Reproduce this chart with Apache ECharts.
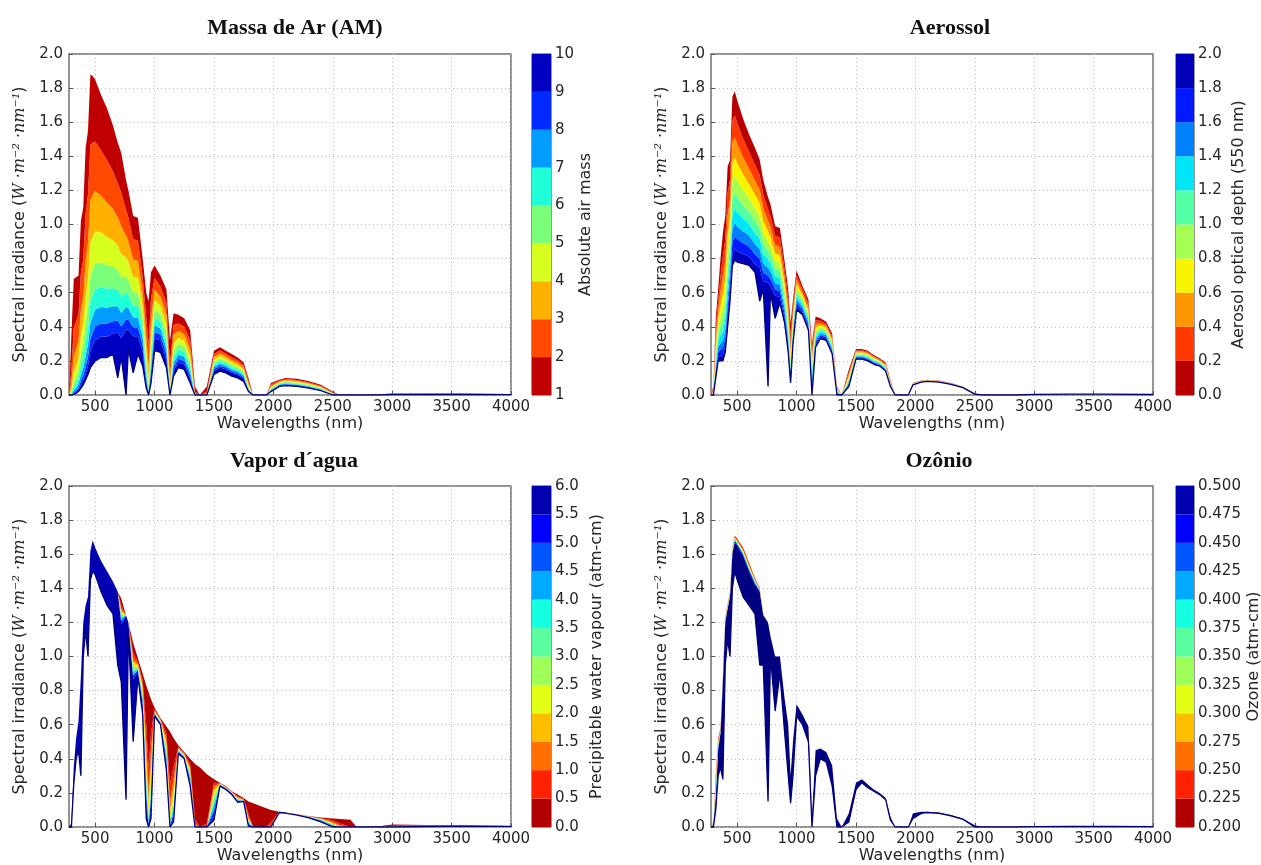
<!DOCTYPE html>
<html>
<head>
<meta charset="utf-8">
<title>Spectral irradiance</title>
<script src="https://cdn.jsdelivr.net/npm/echarts@6/dist/echarts.min.js"></script>
<style>
  html, body { margin: 0; padding: 0; background: #fff; }
  #main { width: 1261px; height: 865px; }
</style>
</head>
<body>
<div id="main"></div>
<script>
// wavelength grid shared by every curve (nm)
const wavelengths = [280, 300, 320, 340, 360, 380, 400, 420, 440, 460,
  480, 500, 550, 600, 650, 690, 720, 760, 780, 820,
  860, 900, 930, 950, 970, 1000, 1050, 1100, 1130, 1160,
  1200, 1250, 1300, 1340, 1380, 1440, 1500, 1550, 1600, 1650,
  1700, 1750, 1790, 1830, 1940, 1980, 2050, 2100, 2200, 2300,
  2400, 2500, 2560, 2650, 2700, 2850, 3000, 3300, 3600, 4000]
const xTicks = [500, 1000, 1500, 2000, 2500, 3000, 3500, 4000]

// --- Massa de Ar: one spectrum per air mass ---
const airMassLevels = [1, 2, 3, 4, 5, 6, 7, 8, 9, 10]
const airMassBar = [1, 2, 3, 4, 5, 6, 7, 8, 9, 10]
const am1 = [0, .35, .68, .69, .70, 1.02, 1.10, 1.45, 1.55, 1.88,
  1.87, 1.85, 1.76, 1.68, 1.58, 1.48, 1.42, 1.26, 1.20, 1.05,
  1.04, .80, .60, .55, .72, .76, .70, .62, .32, .48,
  .47, .45, .38, .05, 0, .05, .26, .28, .26, .24,
  .22, .19, .10, 0, 0, .07, .09, .10, .095, .08,
  .06, .02, 0, 0, 0, 0, .01, .01, .01, .008]
const am2 = [0, .15, .394, .431, .472, .712, .796, 1.064, 1.177, 1.466,
  1.481, 1.487, 1.435, 1.377, 1.313, 1.243, 1.186, 1.086, 1.04, .914,
  .906, .693, .455, .30, .564, .686, .635, .541, .18, .411,
  .42, .401, .32, .02, 0, .02, .241, .261, .243, .222,
  .204, .175, .084, 0, 0, .061, .084, .094, .088, .074,
  .054, .016, 0, 0, 0, 0, .008, .009, .009, .007]
const am3 = [0, .07, .228, .27, .318, .497, .577, .781, .893, 1.144,
  1.173, 1.196, 1.169, 1.129, 1.091, 1.044, .99, .936, .902, .795,
  .789, .601, .346, .17, .442, .618, .576, .471, .10, .353,
  .375, .357, .269, .01, 0, .01, .223, .244, .227, .206,
  .189, .161, .07, 0, 0, .053, .079, .088, .082, .069,
  .049, .012, 0, 0, 0, 0, .007, .008, .008, .006]
const am4 = [0, .03, .132, .169, .214, .347, .418, .573, .678, .892,
  .929, .961, .953, .926, .907, .877, .827, .807, .782, .692,
  .688, .521, .262, .09, .346, .558, .522, .411, .055, .302,
  .335, .318, .226, .005, 0, .005, .206, .228, .212, .191,
  .175, .148, .058, 0, 0, .046, .074, .082, .077, .064,
  .045, .009, 0, 0, 0, 0, .006, .007, .007, .005]
const am5 = [0, .015, .076, .105, .144, .242, .302, .421, .515, .696,
  .736, .773, .777, .759, .754, .737, .69, .695, .678, .602,
  .599, .452, .199, .05, .271, .503, .474, .358, .03, .259,
  .299, .284, .19, 0, 0, 0, .191, .212, .198, .176,
  .162, .136, .049, 0, 0, .04, .069, .077, .071, .059,
  .041, .007, 0, 0, 0, 0, .005, .006, .006, .004]
const am6 = [0, .007, .044, .066, .097, .169, .219, .309, .391, .543,
  .583, .622, .633, .623, .626, .619, .576, .599, .588, .524,
  .522, .392, .151, .03, .212, .454, .43, .312, .017, .222,
  .267, .253, .16, 0, 0, 0, .177, .198, .185, .163,
  .15, .125, .041, 0, 0, .035, .065, .072, .066, .054,
  .037, .005, 0, 0, 0, 0, .004, .005, .005, .004]
const am7 = [0, 0, .026, .041, .066, .118, .158, .227, .297, .423,
  .462, .50, .516, .511, .52, .52, .481, .517, .51, .456,
  .455, .34, .115, .015, .166, .409, .39, .272, .009, .19,
  .238, .225, .135, 0, 0, 0, .164, .185, .172, .151,
  .139, .115, .034, 0, 0, .03, .061, .067, .062, .05,
  .033, .003, 0, 0, 0, 0, .003, .005, .005, .003]
const am8 = [0, 0, .015, .026, .044, .082, .115, .166, .225, .33,
  .366, .402, .42, .419, .432, .437, .402, .445, .442, .397,
  .396, .294, .087, .008, .13, .369, .353, .237, .005, .163,
  .213, .201, .113, 0, 0, 0, .152, .172, .161, .14,
  .128, .106, .029, 0, 0, .026, .057, .063, .058, .047,
  .03, .002, 0, 0, 0, 0, .003, .004, .004, .003]
const am9 = [0, 0, .009, .016, .03, .057, .083, .122, .171, .258,
  .29, .323, .343, .343, .359, .367, .335, .384, .383, .345,
  .345, .255, .066, .004, .102, .333, .32, .207, .002, .14,
  .19, .179, .095, 0, 0, 0, .14, .161, .15, .13,
  .119, .098, .024, 0, 0, .023, .053, .059, .054, .043,
  .028, .001, 0, 0, 0, 0, .002, .003, .003, .002]
const am10 = [0, 0, .005, .01, .02, .04, .06, .09, .12, .16,
  .18, .20, .22, .22, .24, .10, .22, 0, .27, .13,
  .24, .17, .04, 0, .07, .26, .25, .16, 0, .11,
  .16, .15, .07, 0, 0, 0, .12, .14, .13, .11,
  .10, .08, .02, 0, 0, .02, .05, .055, .05, .04,
  .025, 0, 0, 0, 0, 0, .002, .003, .003, .002]

// --- Aerossol: one spectrum per optical depth ---
const aerosolLevels = [0, 0.2, 0.4, 0.6, 0.8, 1.0, 1.2, 1.4, 1.6, 1.8, 2.0]
const aerosolBar = [0, 0.2, 0.4, 0.6, 0.8, 1.0, 1.2, 1.4, 1.6, 1.8, 2.0]
const aod00 = [0, .05, .45, .62, .80, .95, 1.05, 1.34, 1.38, 1.75,
  1.78, 1.73, 1.62, 1.53, 1.45, 1.38, 1.26, 1.16, 1.12, .99,
  .98, .78, .62, .42, .56, .73, .64, .56, .30, .46,
  .45, .43, .36, .05, 0, .15, .27, .27, .26, .235,
  .215, .19, .09, 0, 0, .07, .085, .09, .085, .07,
  .05, .01, 0, 0, 0, 0, .005, .006, .006, .004]
const aod02 = [0, .04, .387, .554, .697, .813, .909, 1.187, 1.259, 1.61,
  1.641, 1.597, 1.503, 1.426, 1.351, 1.289, 1.174, 1.089, 1.052, .934,
  .923, .733, .566, .351, .526, .703, .621, .539, .27, .438,
  .436, .417, .346, .045, 0, .134, .263, .263, .253, .229,
  .21, .184, .085, 0, 0, .069, .084, .089, .084, .069,
  .049, .0095, 0, 0, 0, 0, .005, .006, .006, .004]
const aod04 = [0, .03, .333, .494, .607, .696, .787, 1.052, 1.148, 1.482,
  1.513, 1.475, 1.395, 1.329, 1.26, 1.204, 1.095, 1.023, .989, .88,
  .87, .689, .517, .293, .494, .677, .602, .518, .24, .417,
  .423, .405, .332, .04, 0, .12, .257, .257, .247, .223,
  .205, .179, .08, 0, 0, .068, .083, .088, .083, .068,
  .049, .009, 0, 0, 0, 0, .005, .006, .006, .004]
const aod06 = [0, .02, .286, .441, .529, .596, .682, .932, 1.047, 1.363,
  1.395, 1.362, 1.295, 1.239, 1.174, 1.125, 1.02, .96, .929, .83,
  .819, .648, .472, .245, .464, .652, .583, .498, .21, .396,
  .41, .394, .319, .035, 0, .108, .25, .25, .24, .217,
  .2, .173, .076, 0, 0, .067, .082, .087, .082, .068,
  .048, .0085, 0, 0, 0, 0, .005, .006, .006, .004]
const aod08 = [0, .015, .246, .394, .46, .51, .59, .826, .955, 1.254,
  1.287, 1.258, 1.201, 1.155, 1.094, 1.05, .951, .902, .873, .783,
  .772, .609, .431, .205, .436, .628, .566, .48, .18, .377,
  .397, .383, .306, .03, 0, .097, .244, .244, .234, .211,
  .196, .168, .072, 0, 0, .066, .081, .086, .081, .067,
  .047, .008, 0, 0, 0, 0, .005, .005, .005, .004]
const aod10 = [0, .01, .212, .352, .401, .437, .511, .732, .871, 1.154,
  1.186, 1.162, 1.115, 1.076, 1.02, .981, .886, .847, .82, .738,
  .727, .572, .394, .171, .41, .604, .549, .461, .15, .359,
  .385, .371, .294, .025, 0, .087, .238, .238, .228, .206,
  .191, .163, .067, 0, 0, .065, .08, .085, .08, .066,
  .047, .0075, 0, 0, 0, 0, .0045, .005, .005, .0035]
const aod12 = [0, .005, .182, .314, .349, .374, .443, .648, .794, 1.062,
  1.094, 1.073, 1.035, 1.003, .95, .916, .826, .795, .77, .696,
  .685, .538, .359, .143, .385, .582, .532, .444, .12, .341,
  .374, .361, .282, .02, 0, .078, .232, .232, .222, .2,
  .187, .158, .063, 0, 0, .064, .079, .084, .079, .065,
  .046, .007, 0, 0, 0, 0, .0045, .005, .005, .0035]
const aod14 = [0, 0, .157, .281, .304, .32, .383, .574, .724, .977,
  1.009, .99, .96, .935, .886, .856, .77, .747, .724, .656,
  .645, .506, .328, .12, .362, .56, .516, .427, .09, .325,
  .362, .35, .271, .015, 0, .07, .226, .226, .216, .195,
  .182, .153, .06, 0, 0, .063, .078, .083, .078, .064,
  .045, .0065, 0, 0, 0, 0, .0045, .005, .005, .0035]
const aod16 = [0, 0, .135, .25, .265, .274, .332, .509, .661, .899,
  .93, .915, .891, .871, .826, .799, .717, .701, .68, .619,
  .608, .475, .30, .10, .34, .54, .50, .411, .06, .309,
  .351, .34, .26, .01, 0, .062, .221, .221, .211, .19,
  .178, .149, .056, 0, 0, .062, .077, .082, .077, .064,
  .045, .006, 0, 0, 0, 0, .004, .005, .005, .003]
const aod18 = [0, 0, .116, .224, .23, .234, .288, .451, .603, .827,
  .857, .845, .827, .812, .769, .747, .669, .658, .639, .583,
  .573, .447, .274, .084, .319, .519, .485, .395, .03, .294,
  .341, .33, .25, .005, 0, .056, .215, .215, .205, .185,
  .174, .144, .053, 0, 0, .061, .076, .081, .076, .063,
  .044, .0055, 0, 0, 0, 0, .004, .005, .005, .003]
const aod20 = [0, 0, .10, .20, .20, .20, .25, .40, .55, .76,
  .79, .78, .77, .76, .72, .55, .62, .05, .60, .45,
  .54, .42, .25, .07, .30, .50, .47, .38, 0, .28,
  .33, .32, .24, 0, 0, .05, .21, .21, .20, .18,
  .17, .14, .05, 0, 0, .06, .075, .08, .075, .062,
  .043, .005, 0, 0, 0, 0, .004, .005, .005, .003]

// --- Vapor d'agua: one spectrum per precipitable water ---
const waterLevels = [0, 0.5, 1, 1.5, 2.5, 3.5, 4.5, 5.5, 6]
const waterBar = [0, 0.5, 1, 1.5, 2, 2.5, 3, 3.5, 4, 4.5, 5, 5.5, 6]
const pw00 = [0, .02, .35, .52, .62, .88, 1.2, 1.3, 1.35, 1.62,
  1.68, 1.64, 1.56, 1.5, 1.44, 1.38, 1.34, 1.24, 1.2, 1.08,
  .99, .9, .83, .79, .75, .7, .64, .59, .56, .52,
  .48, .44, .4, .37, .35, .31, .28, .26, .24, .21,
  .19, .17, .15, .14, .11, .1, .09, .085, .075, .065,
  .055, .05, .047, .043, 0, 0, .015, .012, .01, .008]
const pw05 = [0, .02, .35, .52, .62, .88, 1.2, 1.3, 1.35, 1.62,
  1.68, 1.64, 1.56, 1.5, 1.44, 1.38, 1.30, 1.24, 1.2, 1.02,
  .97, .86, .6, .35, .55, .69, .635, .55, .25, .35,
  .47, .435, .37, .05, 0, .02, .26, .258, .238, .208,
  .18, .165, .08, 0, 0, .03, .09, .085, .075, .064,
  .052, .04, .02, 0, 0, 0, .008, .009, .009, .007]
const pw10 = [0, .02, .35, .52, .62, .88, 1.2, 1.3, 1.35, 1.62,
  1.68, 1.64, 1.56, 1.5, 1.44, 1.38, 1.28, 1.24, 1.2, .99,
  .96, .84, .5, .22, .45, .685, .63, .52, .15, .28,
  .465, .43, .35, .02, 0, 0, .24, .256, .236, .206,
  .175, .162, .06, 0, 0, .01, .089, .085, .074, .063,
  .05, .03, .01, 0, 0, 0, .006, .008, .008, .007]
const pw15 = [0, .02, .35, .52, .62, .88, 1.2, 1.3, 1.35, 1.62,
  1.68, 1.64, 1.56, 1.5, 1.44, 1.38, 1.27, 1.24, 1.2, .97,
  .95, .82, .42, .15, .38, .68, .625, .50, .10, .23,
  .46, .425, .34, .01, 0, 0, .22, .254, .234, .204,
  .17, .16, .05, 0, 0, 0, .089, .084, .074, .062,
  .048, .025, .005, 0, 0, 0, .005, .007, .008, .006]
const pw25 = [0, .02, .35, .52, .62, .88, 1.2, 1.3, 1.35, 1.62,
  1.68, 1.64, 1.56, 1.5, 1.44, 1.38, 1.25, 1.24, 1.2, .94,
  .94, .79, .32, .08, .28, .675, .62, .46, .05, .16,
  .455, .42, .32, 0, 0, 0, .18, .252, .232, .202,
  .165, .158, .04, 0, 0, 0, .088, .084, .073, .061,
  .045, .018, 0, 0, 0, 0, .004, .006, .007, .006]
const pw35 = [0, .02, .35, .52, .62, .88, 1.2, 1.3, 1.35, 1.62,
  1.68, 1.64, 1.56, 1.5, 1.44, 1.38, 1.23, 1.24, 1.2, .91,
  .93, .76, .25, .04, .21, .67, .615, .43, .02, .12,
  .45, .415, .30, 0, 0, 0, .14, .25, .23, .20,
  .16, .156, .03, 0, 0, 0, .088, .084, .073, .06,
  .042, .012, 0, 0, 0, 0, .003, .005, .006, .005]
const pw45 = [0, .02, .35, .52, .62, .88, 1.2, 1.3, 1.35, 1.62,
  1.68, 1.64, 1.56, 1.5, 1.44, 1.38, 1.21, 1.24, 1.2, .89,
  .92, .74, .18, .02, .15, .665, .61, .40, .01, .08,
  .445, .41, .28, 0, 0, 0, .10, .248, .228, .198,
  .155, .154, .02, 0, 0, 0, .087, .083, .072, .058,
  .038, .008, 0, 0, 0, 0, .002, .004, .006, .005]
const pw55 = [0, .02, .35, .52, .62, .88, 1.2, 1.3, 1.35, 1.62,
  1.68, 1.64, 1.56, 1.5, 1.44, 1.38, 1.19, 1.24, 1.2, .87,
  .91, .72, .12, .01, .10, .66, .605, .37, 0, .05,
  .44, .405, .26, 0, 0, 0, .06, .246, .226, .196,
  .15, .152, .01, 0, 0, 0, .087, .083, .072, .056,
  .034, .004, 0, 0, 0, 0, .001, .004, .005, .005]
const pw60 = [0, 0, .25, .4, .45, .3, 1.0, 1.15, 1.0, 1.45,
  1.5, 1.48, 1.38, 1.3, 1.25, .95, .85, .16, 1.15, .5,
  .88, .66, .05, 0, .05, .65, .60, .33, 0, .03,
  .43, .40, .24, 0, 0, 0, .04, .24, .22, .19,
  .145, .15, .005, 0, 0, 0, .085, .082, .07, .054,
  .03, 0, 0, 0, 0, 0, 0, .003, .005, .004]

// --- Ozonio: one spectrum per ozone column (last one = line minima) ---
const ozoneLevels = [0.2, 0.275, 0.35, 0.425, 0.5, 0.5]
const ozoneBar = [0.2, 0.225, 0.25, 0.275, 0.3, 0.325, 0.35, 0.375, 0.4, 0.425, 0.45, 0.475, 0.5]
const oz200 = [0, .03, .30, .52, .58, .88, 1.23, 1.31, 1.38, 1.64,
  1.71, 1.69, 1.64, 1.55, 1.46, 1.40, 1.25, 1.2, 1.12, 1.0,
  1.0, .75, .6, .3, .5, .72, .66, .59, .05, .45,
  .46, .44, .36, .05, 0, .08, .26, .28, .25, .22,
  .2, .17, .06, 0, 0, .08, .09, .09, .085, .07,
  .05, .01, 0, 0, 0, 0, .003, .004, .004, .003]
const oz275 = [0, .025, .26, .50, .57, .87, 1.22, 1.30, 1.37, 1.63,
  1.70, 1.68, 1.625, 1.535, 1.45, 1.395, 1.245, 1.2, 1.12, 1.0,
  1.0, .75, .6, .3, .5, .72, .66, .59, .05, .45,
  .46, .44, .36, .05, 0, .08, .26, .28, .25, .22,
  .2, .17, .06, 0, 0, .08, .09, .09, .085, .07,
  .05, .01, 0, 0, 0, 0, .003, .004, .004, .003]
const oz350 = [0, .02, .22, .48, .56, .865, 1.21, 1.29, 1.36, 1.62,
  1.69, 1.67, 1.61, 1.52, 1.44, 1.39, 1.243, 1.2, 1.12, 1.0,
  1.0, .75, .6, .3, .5, .72, .66, .59, .05, .45,
  .46, .44, .36, .05, 0, .08, .26, .28, .25, .22,
  .2, .17, .06, 0, 0, .08, .09, .09, .085, .07,
  .05, .01, 0, 0, 0, 0, .003, .004, .004, .003]
const oz425 = [0, .015, .18, .465, .555, .86, 1.205, 1.285, 1.355, 1.61,
  1.68, 1.66, 1.60, 1.51, 1.43, 1.385, 1.242, 1.2, 1.12, 1.0,
  1.0, .75, .6, .3, .5, .72, .66, .59, .05, .45,
  .46, .44, .36, .05, 0, .08, .26, .28, .25, .22,
  .2, .17, .06, 0, 0, .08, .09, .09, .085, .07,
  .05, .01, 0, 0, 0, 0, .003, .004, .004, .003]
const oz500 = [0, .01, .15, .45, .55, .85, 1.2, 1.28, 1.35, 1.6,
  1.67, 1.65, 1.59, 1.5, 1.42, 1.38, 1.24, 1.2, 1.12, 1.0,
  1.0, .75, .6, .3, .5, .72, .66, .59, .05, .45,
  .46, .44, .36, .05, 0, .08, .26, .28, .25, .22,
  .2, .17, .06, 0, 0, .08, .09, .09, .085, .07,
  .05, .01, 0, 0, 0, 0, .003, .004, .004, .003]
const oz500min = [0, 0, .10, .30, .35, .28, .95, 1.10, 1.0, 1.40,
  1.50, 1.45, 1.35, 1.30, 1.25, .95, .95, .15, 1.0, .68,
  .90, .55, .30, .14, .30, .65, .60, .50, 0, .30,
  .40, .38, .24, 0, 0, .03, .22, .26, .23, .21,
  .19, .16, .04, 0, 0, .05, .08, .085, .08, .065,
  .045, 0, 0, 0, 0, 0, .002, .003, .003, .002]

// matplotlib 'jet' segments
function jet(t) {
  const seg = (pts) => {
    for (let i = 1; i < pts.length; i++) {
      if (t <= pts[i][0]) {
        const [x0, y0] = pts[i - 1], [x1, y1] = pts[i]
        return y0 + (y1 - y0) * (t - x0) / (x1 - x0)
      }
    }
    return pts[pts.length - 1][1]
  }
  const r = seg([[0, 0], [0.35, 0], [0.66, 1], [0.89, 1], [1, 0.5]])
  const g = seg([[0, 0], [0.125, 0], [0.375, 1], [0.64, 1], [0.91, 0], [1, 0]])
  const b = seg([[0, 0.5], [0.11, 1], [0.34, 1], [0.65, 0], [1, 0]])
  return 'rgb(' + [r, g, b].map(v => Math.round(v * 255)).join(',') + ')'
}
// reversed jet: low value = dark red, high value = dark blue
const levelColor = (v, bar) => jet(1 - (v - bar[0]) / (bar[bar.length - 1] - bar[0]))

const panels = [
  { title: 'Massa de Ar (AM)', titleX: 290, titleY: 12, left: 69, top: 54, cbLeft: 532, cbWidth: 19,
    levels: airMassLevels, curves: [am1, am2, am3, am4, am5, am6, am7, am8, am9, am10],
    bar: airMassBar, barName: 'Absolute air mass', digits: 0, barGap: 27 },
  { title: 'Aerossol', titleX: 945, titleY: 12, left: 711, top: 54, cbLeft: 1176, cbWidth: 18,
    levels: aerosolLevels, curves: [aod00, aod02, aod04, aod06, aod08, aod10, aod12, aod14, aod16, aod18, aod20],
    bar: aerosolBar, barName: 'Aerosol optical depth (550 nm)', digits: 1, barGap: 37 },
  { title: 'Vapor d´agua', titleX: 289, titleY: 445, left: 69, top: 486, cbLeft: 532, cbWidth: 19,
    levels: waterLevels, curves: [pw00, pw05, pw10, pw15, pw25, pw35, pw45, pw55, pw60],
    bar: waterBar, barName: 'Precipitable water vapour (atm-cm)', digits: 1, barGap: 38 },
  { title: 'Ozônio', titleX: 934, titleY: 445, left: 711, top: 486, cbLeft: 1176, cbWidth: 18,
    levels: ozoneLevels, curves: [oz200, oz275, oz350, oz425, oz500, oz500min],
    bar: ozoneBar, barName: 'Ozone (atm-cm)', digits: 3, barGap: 52 }
]

const PLOT_W = 442
const PLOT_H = 341
const textColor = '#262626'
const navy = '#00007a'

const option = {
  animation: false,
  backgroundColor: '#fff',
  title: [],
  grid: [],
  xAxis: [],
  yAxis: [],
  series: []
}

panels.forEach((p, i) => {
  const gPlot = i * 2
  const gBar = i * 2 + 1

  option.title.push({
    text: p.title, left: p.titleX, top: p.titleY, textAlign: 'center',
    textStyle: { fontFamily: 'Liberation Serif', fontWeight: 'bold', fontSize: 22, color: '#111' }
  })

  option.grid.push({
    left: p.left, top: p.top, width: PLOT_W, height: PLOT_H,
    show: true, borderColor: '#707070', borderWidth: 1.5, outerBoundsMode: 'none'
  })
  option.grid.push({
    left: p.cbLeft, top: p.top, width: p.cbWidth, height: PLOT_H,
    show: true, borderColor: '#333', borderWidth: 1, outerBoundsMode: 'none'
  })

  option.xAxis.push({
    type: 'value', gridIndex: gPlot, min: 280, max: 4000,
    axisLine: { show: false },
    axisTick: { show: true, inside: true, length: 4, customValues: xTicks, lineStyle: { color: '#555' } },
    axisLabel: { customValues: xTicks, formatter: v => String(v), color: textColor, fontSize: 15, fontFamily: 'DejaVu Sans', margin: 5 },
    splitLine: { show: true, lineStyle: { color: '#b8b8b8', width: 1, type: [1, 3] } },
    name: 'Wavelengths (nm)', nameLocation: 'middle', nameGap: 21,
    nameTextStyle: { color: textColor, fontSize: 16, fontFamily: 'DejaVu Sans' }
  })
  option.yAxis.push({
    type: 'value', gridIndex: gPlot, min: 0, max: 2, interval: 0.2,
    axisLine: { show: false },
    axisTick: { show: true, inside: true, length: 4, lineStyle: { color: '#555' } },
    axisLabel: { formatter: v => v.toFixed(1), color: textColor, fontSize: 15, fontFamily: 'DejaVu Sans', margin: 6 },
    splitLine: { show: true, lineStyle: { color: '#b8b8b8', width: 1, type: [1, 3] } },
    name: '{a|Spectral irradiance (}{b|W ·m⁻² ·nm⁻¹}{a|)}',
    nameLocation: 'middle', nameGap: 41, nameRotate: 90,
    nameTextStyle: {
      rich: {
        a: { color: textColor, fontSize: 16, fontFamily: 'DejaVu Sans' },
        b: { color: textColor, fontSize: 16, fontFamily: 'DejaVu Serif', fontStyle: 'italic' }
      }
    }
  })

  // colorbar axes
  option.xAxis.push({ type: 'category', gridIndex: gBar, data: ['c'], show: false })
  option.yAxis.push({
    type: 'value', gridIndex: gBar, position: 'right',
    min: p.bar[0], max: p.bar[p.bar.length - 1],
    axisLine: { show: false }, axisTick: { show: false }, splitLine: { show: false },
    axisLabel: {
      customValues: p.bar, formatter: v => v.toFixed(p.digits),
      color: textColor, fontSize: 15, fontFamily: 'DejaVu Sans', margin: 4
    },
    name: p.barName, nameLocation: 'middle', nameRotate: 90, nameGap: p.barGap,
    nameTextStyle: { color: textColor, fontSize: 16, fontFamily: 'DejaVu Sans' }
  })

  // spectra: stacked bands, lowest curve first.
  // points are stored as [irradiance, wavelength] so the stack runs on irradiance
  const stack = 'spec' + i
  const n = p.curves.length
  const lowest = p.curves[n - 1]
  option.series.push({
    type: 'line', xAxisIndex: gPlot, yAxisIndex: gPlot, stack,
    encode: { x: 1, y: 0 },
    data: wavelengths.map((w, j) => [lowest[j], w]),
    symbol: 'none', z: 4, silent: true,
    lineStyle: { color: navy, width: 1.3 }
  })
  for (let k = n - 2; k >= 0; k--) {
    const upper = p.curves[k]
    const lower = p.curves[k + 1]
    const color = levelColor((p.levels[k] + p.levels[k + 1]) / 2, p.bar)
    option.series.push({
      type: 'line', xAxisIndex: gPlot, yAxisIndex: gPlot, stack,
      encode: { x: 1, y: 0 },
      data: wavelengths.map((w, j) => [Math.max(0, upper[j] - lower[j]), w]),
      symbol: 'none', silent: true,
      lineStyle: { opacity: 0 },
      areaStyle: { color, opacity: 1 }
    })
  }

  // colorbar bands
  const cbStack = 'cb' + i
  for (let k = 0; k < p.bar.length - 1; k++) {
    const mid = (p.bar[k] + p.bar[k + 1]) / 2
    option.series.push({
      type: 'bar', xAxisIndex: gBar, yAxisIndex: gBar, stack: cbStack,
      barWidth: '100%', silent: true,
      data: [k === 0 ? p.bar[1] : p.bar[k + 1] - p.bar[k]],
      itemStyle: { color: levelColor(mid, p.bar) }
    })
  }
})

const chart = echarts.init(document.getElementById('main'), null, { renderer: 'canvas' })
chart.setOption(option)
</script>
</body>
</html>
